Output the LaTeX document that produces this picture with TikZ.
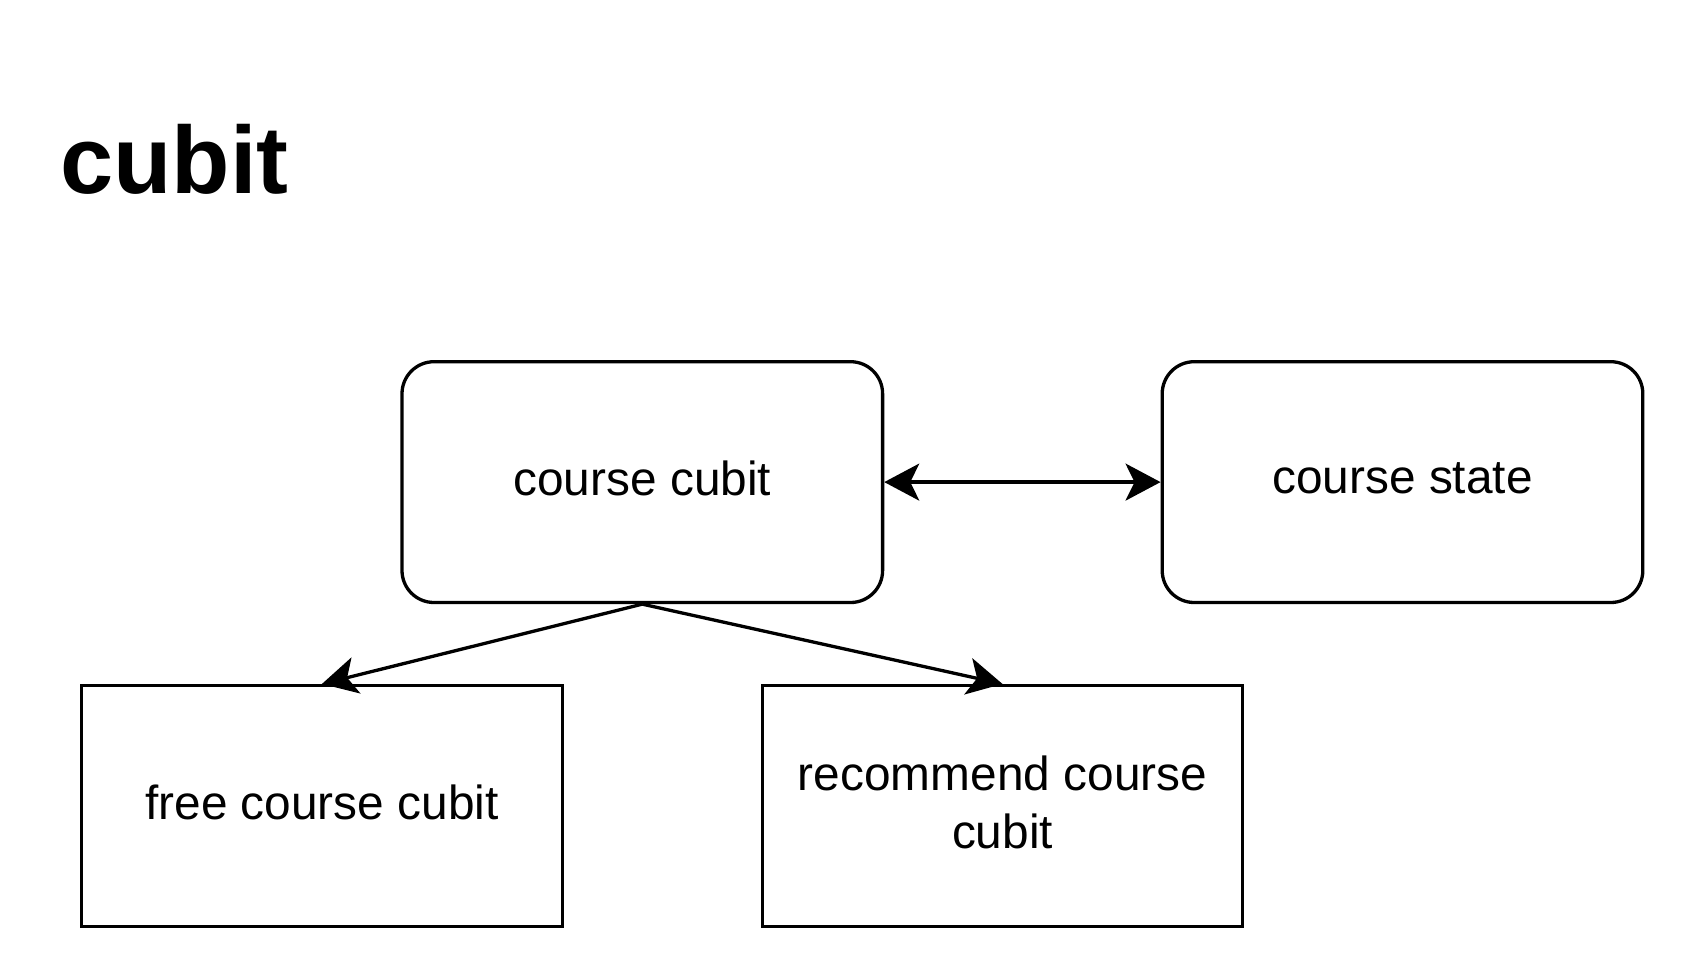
\documentclass[tikz,border=0pt]{standalone}
\usepackage{fontspec}
\setmainfont{Liberation Sans}
\usetikzlibrary{arrows.meta}
\begin{document}
\begin{tikzpicture}[x=0.5pt,y=-0.5pt,
  box/.style={draw=black,line width=1.65pt,minimum width=240.3pt,minimum height=120.4pt,inner sep=0pt,align=center,text depth=3.8pt,font=\fontsize{23.9}{28.7}\selectfont},
  rbox/.style={box,rounded corners=16pt},
  conn/.style={line width=1.65pt,-{Stealth[length=17.5pt,width=18.5pt,inset=4.5pt]}}]
\useasboundingbox (0,0) rectangle (1684,968);
\node[anchor=base west,inner sep=0pt,font=\fontsize{47.8}{56}\selectfont\bfseries] (title) at (59.7,193) {cubit};
\node[rbox] (cc) at (642.3,482.1) {course cubit};
\node[rbox] (cs) at (1402.5,482.1) {course state};
\node[box] (fc) at (321.9,806) {free course cubit};
\node[box] (rc) at (1002.5,806) {recommend course\\cubit};
\draw[line width=1.65pt,{Stealth[length=17.5pt,width=18.5pt,inset=4.5pt]}-{Stealth[length=17.5pt,width=18.5pt,inset=4.5pt]}] (cc.east) -- (cs.west);
\draw[conn] (cc.south) -- (fc.north);
\draw[conn] (cc.south) -- (rc.north);
\end{tikzpicture}
\end{document}
